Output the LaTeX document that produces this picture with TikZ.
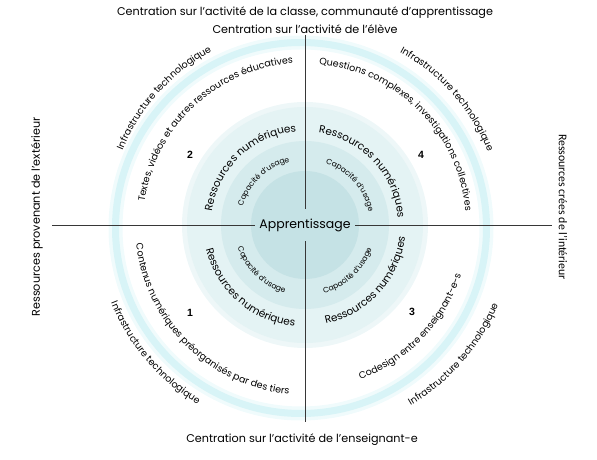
\documentclass[tikz,border=0pt]{standalone}
\usepackage{fontspec}
\setmainfont{Poppins}
\newfontfamily\numfont{Liberation Sans}
\newfontfamily\sidefont{Carlito}
\usetikzlibrary{calc,decorations.text}
\definecolor{ringc}{RGB}{216,244,247}
\definecolor{halo}{RGB}{240,251,252}
\definecolor{dA0}{RGB}{238,247,248}
\definecolor{dA}{RGB}{228,243,244}
\definecolor{dB}{RGB}{213,235,237}
\definecolor{dC}{RGB}{197,226,229}
\definecolor{linec}{RGB}{55,55,55}
\newcommand\ftitle{\fontsize{11.2}{13}\selectfont}
\newcommand\fside{\sidefont\fontsize{11.8}{14}\selectfont}
\newcommand\fring{\fontsize{9.5}{11}\selectfont}
\newcommand\fres{\fontsize{10.5}{12}\selectfont}
\newcommand\fcap{\fontsize{7.6}{9}\selectfont}
\newcommand\fapp{\fontsize{12.5}{14}\selectfont}
\newcommand\fnum{\numfont\bfseries\fontsize{10.5}{12}\selectfont}
\begin{document}
\begin{tikzpicture}[x=1pt,y=1pt,
  axisline/.style={draw=linec,line width=0.8pt},
  arctxt/.style={decorate,decoration={text along path,text align=center,text={#1}}},
  numlbl/.style={font=\fnum,inner sep=0pt},
  titlelbl/.style={font=\ftitle,inner sep=0pt}]
\useasboundingbox (0,0) rectangle (597,460);
\coordinate (C) at (305,235);
\coordinate (RC) at (301,232);
% rings and disks
\draw[halo,line width=14pt] (RC) circle[radius=185.5];
\draw[ringc,line width=7pt] (RC) circle[radius=185.5];
\fill[dA0] (C) circle[radius=123];
\fill[dA] (C) circle[radius=118];
\fill[dB] (C) circle[radius=84];
\fill[dC] (C) circle[radius=54];
% axes
\node[minimum width=100pt,minimum height=32pt,inner sep=0pt,font=\fapp] (app) at (C) {Apprentissage};
\coordinate (top) at (305,425);
\coordinate (bottom) at (305,38);
\coordinate (left) at (52,235);
\coordinate (right) at (552,235);
\draw[axisline] (top) -- (app.north);
\draw[axisline] (app.south) -- (bottom);
\draw[axisline] (left) -- (app.west);
\draw[axisline] (app.east) -- (right);
% titles
\node[titlelbl] (t1) at (305,447) {Centration sur l’activité de la classe, communauté d’apprentissage};
\node[titlelbl] (t2) at (305,431) {Centration sur l’activité de l’élève};
\node[titlelbl] (t3) at (302,20) {Centration sur l’activité de l’enseignant-e};
\node[titlelbl,rotate=90] (sl) at (37,243) {Ressources provenant de l’extérieur};
\node[inner sep=0pt,font=\fside,rotate=-90] (sr) at (563,253) {Ressources crées de l’intérieur};
% numbers
\node[numlbl] (n2) at (190,305) {2};
\node[numlbl] (n4) at (421,305) {4};
\node[numlbl] (n1) at (190,147) {1};
\node[numlbl] (n3) at (412,148) {3};
% quadrant 2 (upper left)
\path[arctxt={|\fring|Infrastructure technologique}] ($(C)+(188:197)$) arc[start angle=188,end angle=88,radius=197];
\path[arctxt={|\fring|Textes, vidéos et autres ressources éducatives}] ($(C)+(183:162)$) arc[start angle=183,end angle=83,radius=162];
\path[arctxt={|\fres|Ressources numériques}] ($(C)+(183:94)$) arc[start angle=183,end angle=84,radius=94];
\path[arctxt={|\fcap|Capacité d’usage}] ($(C)+(183:65)$) arc[start angle=183,end angle=84,radius=65];
% quadrant 4 (upper right)
\path[arctxt={|\fring|Infrastructure technologique}] ($(C)+(91:197)$) arc[start angle=91,end angle=-8,radius=197];
\path[arctxt={|\fring|Questions complexes, investigations collectives}] ($(C)+(95:161)$) arc[start angle=95,end angle=-5,radius=161];
\path[arctxt={|\fres|Ressources numériques}] ($(C)+(93:93)$) arc[start angle=93,end angle=-7,radius=93];
\path[arctxt={|\fcap|Capacité d’usage}] ($(C)+(91:65)$) arc[start angle=91,end angle=-8,radius=65];
% quadrant 1 (lower left)
\path[arctxt={|\fring|Infrastructure technologique}] ($(C)+(170:209)$) arc[start angle=170,end angle=271,radius=209];
\path[arctxt={|\fring|Contenus numériques préorganisés par des tiers}] ($(C)+(175:170)$) arc[start angle=175,end angle=276,radius=170];
\path[arctxt={|\fres|Ressources numériques}] ($(C)+(179:102)$) arc[start angle=179,end angle=279,radius=102];
\path[arctxt={|\fcap|Capacité d’usage}] ($(C)+(176:71)$) arc[start angle=176,end angle=276,radius=71];
% quadrant 3 (lower right)
\path[arctxt={|\fring|Infrastructure technologique}] ($(C)+(269:209)$) arc[start angle=269,end angle=369,radius=209];
\path[arctxt={|\fring|Codesign entre enseignant-e-s}] ($(C)+(266:164)$) arc[start angle=266,end angle=366,radius=164];
\path[arctxt={|\fres|Ressources numériques}] ($(C)+(267.5:101)$) arc[start angle=267.5,end angle=367.5,radius=101];
\path[arctxt={|\fcap|Capacité d’usage}] ($(C)+(263:71)$) arc[start angle=263,end angle=363,radius=71];
\end{tikzpicture}
\end{document}
